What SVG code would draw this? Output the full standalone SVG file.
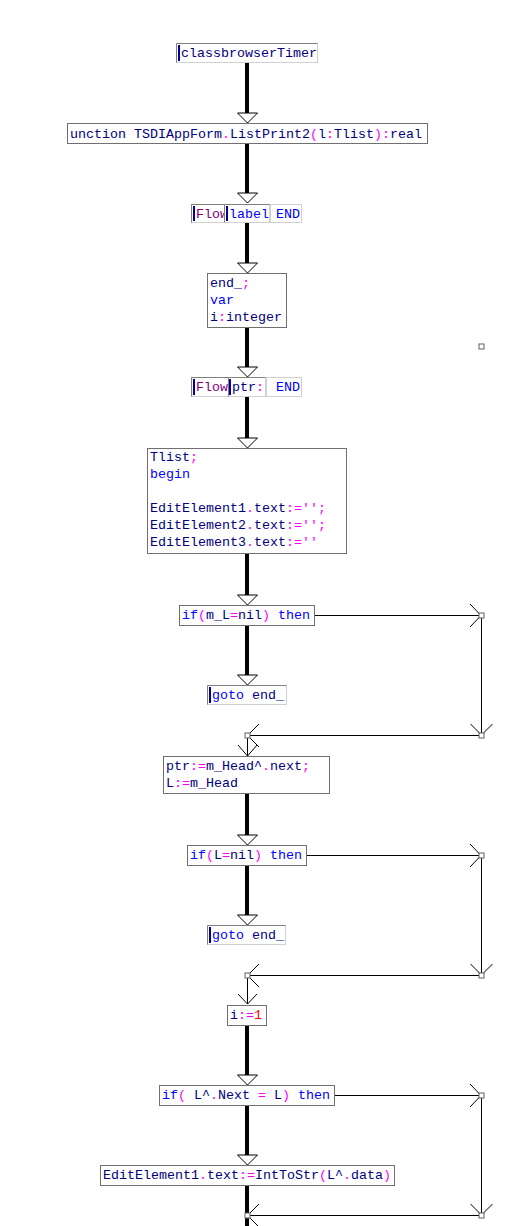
<svg xmlns="http://www.w3.org/2000/svg" width="518" height="1226" viewBox="0 0 518 1226">
<style>
text{font-family:"Liberation Mono","Courier New",monospace;font-size:13.33px;fill:#000080;white-space:pre}
.k{fill:#0000ff}.p{fill:#ff00ff}.n{fill:#ff0000}.f{fill:#800080}
.box{fill:#fff;stroke:#707070;stroke-width:1}
.lb{fill:#fff;stroke:#d0d0d0;stroke-width:1}
.lt{fill:none;stroke:#808080;stroke-width:1}
.bar{stroke:#0000a0;stroke-width:2}
.thick{stroke:#000;stroke-width:4;fill:none}
.thin{stroke:#000;stroke-width:1;fill:none}
.tri{fill:#fff;stroke:#000;stroke-width:1}
.sq{fill:#fff;stroke:#606060;stroke-width:1}
</style>
<defs>
<clipPath id="c1"><rect x="191" y="204" width="33" height="18"/></clipPath>
</defs>
<rect width="518" height="1226" fill="#fff"/>
<g id="connectors">
<line class="thick" x1="247" y1="62" x2="247" y2="114"/>
<polygon class="tri" points="237.5,113 257.5,113 247.5,123"/>
<line class="thick" x1="247" y1="143" x2="247" y2="194"/>
<polygon class="tri" points="237.5,193 257.5,193 247.5,203"/>
<line class="thick" x1="247" y1="222" x2="247" y2="264"/>
<polygon class="tri" points="237.5,263 257.5,263 247.5,273"/>
<line class="thick" x1="247" y1="327" x2="247" y2="368"/>
<polygon class="tri" points="237.5,367 257.5,367 247.5,377"/>
<line class="thick" x1="247" y1="396" x2="247" y2="439"/>
<polygon class="tri" points="237.5,438 257.5,438 247.5,448"/>
<line class="thick" x1="247" y1="553" x2="247" y2="596"/>
<polygon class="tri" points="237.5,595 257.5,595 247.5,605"/>
<line class="thick" x1="247" y1="625" x2="247" y2="676"/>
<polygon class="tri" points="237.5,675 257.5,675 247.5,685"/>
<path class="thin" d="M314,615.5H481.5V735.5H247.5V756"/>
<path class="thin" d="M470,604L481,615.5L470,627M470.5,724L481.5,735L492.5,724M259,724L247.5,735.5L259,747M238,745L247.5,756L257,745"/>
<line class="thick" x1="247" y1="793" x2="247" y2="836"/>
<polygon class="tri" points="237.5,835 257.5,835 247.5,845"/>
<line class="thick" x1="247" y1="865" x2="247" y2="916"/>
<polygon class="tri" points="237.5,915 257.5,915 247.5,925"/>
<path class="thin" d="M306,855.5H481.5V975.5H247.5V1004"/>
<path class="thin" d="M470,844L481,855.5L470,867M470.5,964L481.5,975L492.5,964M259,964L247.5,975.5L259,987M238,994L247.5,1004L257,994"/>
<line class="thick" x1="247" y1="1025" x2="247" y2="1076"/>
<polygon class="tri" points="237.5,1075 257.5,1075 247.5,1085"/>
<line class="thick" x1="247" y1="1105" x2="247" y2="1156"/>
<polygon class="tri" points="237.5,1155 257.5,1155 247.5,1165"/>
<path class="thin" d="M334,1095.5H481.5V1215.5H247.5"/>
<path class="thin" d="M470,1084L481,1095.5L470,1107M470.5,1204L481.5,1215L492.5,1204M259,1204L247.5,1215.5L259,1227"/>
<line class="thick" x1="247" y1="1185" x2="247" y2="1226"/>
<rect class="sq" x="479" y="613" width="5" height="5"/>
<rect class="sq" x="479" y="733" width="5" height="5"/>
<rect class="sq" x="245" y="733" width="5" height="5"/>
<rect class="sq" x="479" y="853" width="5" height="5"/>
<rect class="sq" x="479" y="973" width="5" height="5"/>
<rect class="sq" x="245" y="973" width="5" height="5"/>
<rect class="sq" x="479" y="1093" width="5" height="5"/>
<rect class="sq" x="479" y="1213" width="5" height="5"/>
<rect class="sq" x="245" y="1213" width="5" height="5"/>
<rect class="sq" x="479" y="344" width="5" height="5"/>
</g>
<g id="n1">
<rect class="lb" x="176.5" y="43.5" width="141" height="19"/>
<path class="lt" d="M176.5,62.5V43.5H317.5"/>
<line class="bar" x1="179" y1="45" x2="179" y2="61"/>
<text x="181" y="57">classbrowserTimer</text>
</g>
<g id="n2">
<rect class="box" x="67.5" y="123.5" width="360" height="20"/>
<text x="70" y="138">unction TSDIAppForm<tspan class="p">.</tspan>ListPrint2<tspan class="p">(</tspan>l<tspan class="p">:</tspan>Tlist<tspan class="p">):</tspan>real</text>
</g>
<g id="n3">
<rect class="lb" x="191.5" y="204.5" width="33" height="18"/>
<path class="lt" d="M191.5,222.5V204.5H224.5"/>
<line class="bar" x1="194" y1="206" x2="194" y2="221"/>
<text class="f" x="196" y="218" clip-path="url(#c1)">Flow</text>
<rect class="lb" x="224.5" y="204.5" width="45" height="18"/>
<path class="lt" d="M224.5,222.5V204.5H269.5"/>
<line class="bar" x1="227" y1="206" x2="227" y2="221"/>
<text class="k" x="229" y="218">label</text>
<rect class="lb" x="270.5" y="204.5" width="31" height="18"/>
<text class="k" x="276" y="218">END</text>
</g>
<g id="n4">
<rect class="box" x="207.5" y="273.5" width="79" height="54"/>
<text x="210" y="287">end_<tspan class="p">;</tspan></text>
<text class="k" x="210" y="304">var</text>
<text x="210" y="321">i<tspan class="p">:</tspan>integer</text>
</g>
<g id="n5">
<rect class="lb" x="191.5" y="377.5" width="37" height="19"/>
<path class="lt" d="M191.5,396.5V377.5H228.5"/>
<line class="bar" x1="194" y1="379" x2="194" y2="395"/>
<text class="f" x="196" y="391">Flow</text>
<rect class="lb" x="228.5" y="377.5" width="37" height="19"/>
<path class="lt" d="M228.5,396.5V377.5H265.5"/>
<line class="bar" x1="230" y1="379" x2="230" y2="395"/>
<text x="232" y="391">ptr<tspan class="p">:</tspan></text>
<rect class="lb" x="266.5" y="377.5" width="35" height="19"/>
<text class="k" x="276" y="391">END</text>
</g>
<g id="n6">
<rect class="box" x="147.5" y="448.5" width="199" height="105"/>
<text x="150" y="461">Tlist<tspan class="p">;</tspan></text>
<text class="k" x="150" y="478">begin</text>
<text x="150" y="512">EditElement1<tspan class="p">.</tspan>text<tspan class="p">:=''</tspan><tspan class="p">;</tspan></text>
<text x="150" y="529">EditElement2<tspan class="p">.</tspan>text<tspan class="p">:=''</tspan><tspan class="p">;</tspan></text>
<text x="150" y="546">EditElement3<tspan class="p">.</tspan>text<tspan class="p">:=''</tspan></text>
</g>
<g id="n7">
<rect class="box" x="179.5" y="605.5" width="135" height="20"/>
<text x="182" y="619"><tspan class="k">if</tspan><tspan class="p">(</tspan>m_L<tspan class="p">=</tspan>nil<tspan class="p">)</tspan> <tspan class="k">then</tspan></text>
</g>
<g id="n8">
<rect class="lb" x="207.5" y="685.5" width="79" height="19"/>
<path class="lt" d="M207.5,704.5V685.5H286.5"/>
<line class="bar" x1="210" y1="687" x2="210" y2="703"/>
<text x="212" y="699"><tspan class="k">goto</tspan> end_</text>
</g>
<g id="n9">
<rect class="box" x="163.5" y="756.5" width="166" height="37"/>
<text x="166" y="770">ptr<tspan class="p">:=</tspan>m_Head^<tspan class="p">.</tspan>next<tspan class="p">;</tspan></text>
<text x="166" y="787">L<tspan class="p">:=</tspan>m_Head</text>
</g>
<g id="n10">
<rect class="box" x="187.5" y="845.5" width="119" height="20"/>
<text x="190" y="859"><tspan class="k">if</tspan><tspan class="p">(</tspan>L<tspan class="p">=</tspan>nil<tspan class="p">)</tspan> <tspan class="k">then</tspan></text>
</g>
<g id="n11">
<rect class="lb" x="207.5" y="925.5" width="78" height="19"/>
<path class="lt" d="M207.5,944.5V925.5H285.5"/>
<line class="bar" x1="210" y1="927" x2="210" y2="943"/>
<text x="212" y="939"><tspan class="k">goto</tspan> end_</text>
</g>
<g id="n12">
<rect class="box" x="227.5" y="1005.5" width="39" height="20"/>
<text x="230" y="1019">i<tspan class="p">:=</tspan><tspan class="n">1</tspan></text>
</g>
<g id="n13">
<rect class="box" x="159.5" y="1085.5" width="175" height="20"/>
<text x="162" y="1099"><tspan class="k">if</tspan><tspan class="p">(</tspan> L^<tspan class="p">.</tspan>Next <tspan class="p">=</tspan> L<tspan class="p">)</tspan> <tspan class="k">then</tspan></text>
</g>
<g id="n14">
<rect class="box" x="100.5" y="1165.5" width="294" height="20"/>
<text x="103" y="1179">EditElement1<tspan class="p">.</tspan>text<tspan class="p">:=</tspan>IntToStr<tspan class="p">(</tspan>L^<tspan class="p">.</tspan>data<tspan class="p">)</tspan></text>
</g>
</svg>
